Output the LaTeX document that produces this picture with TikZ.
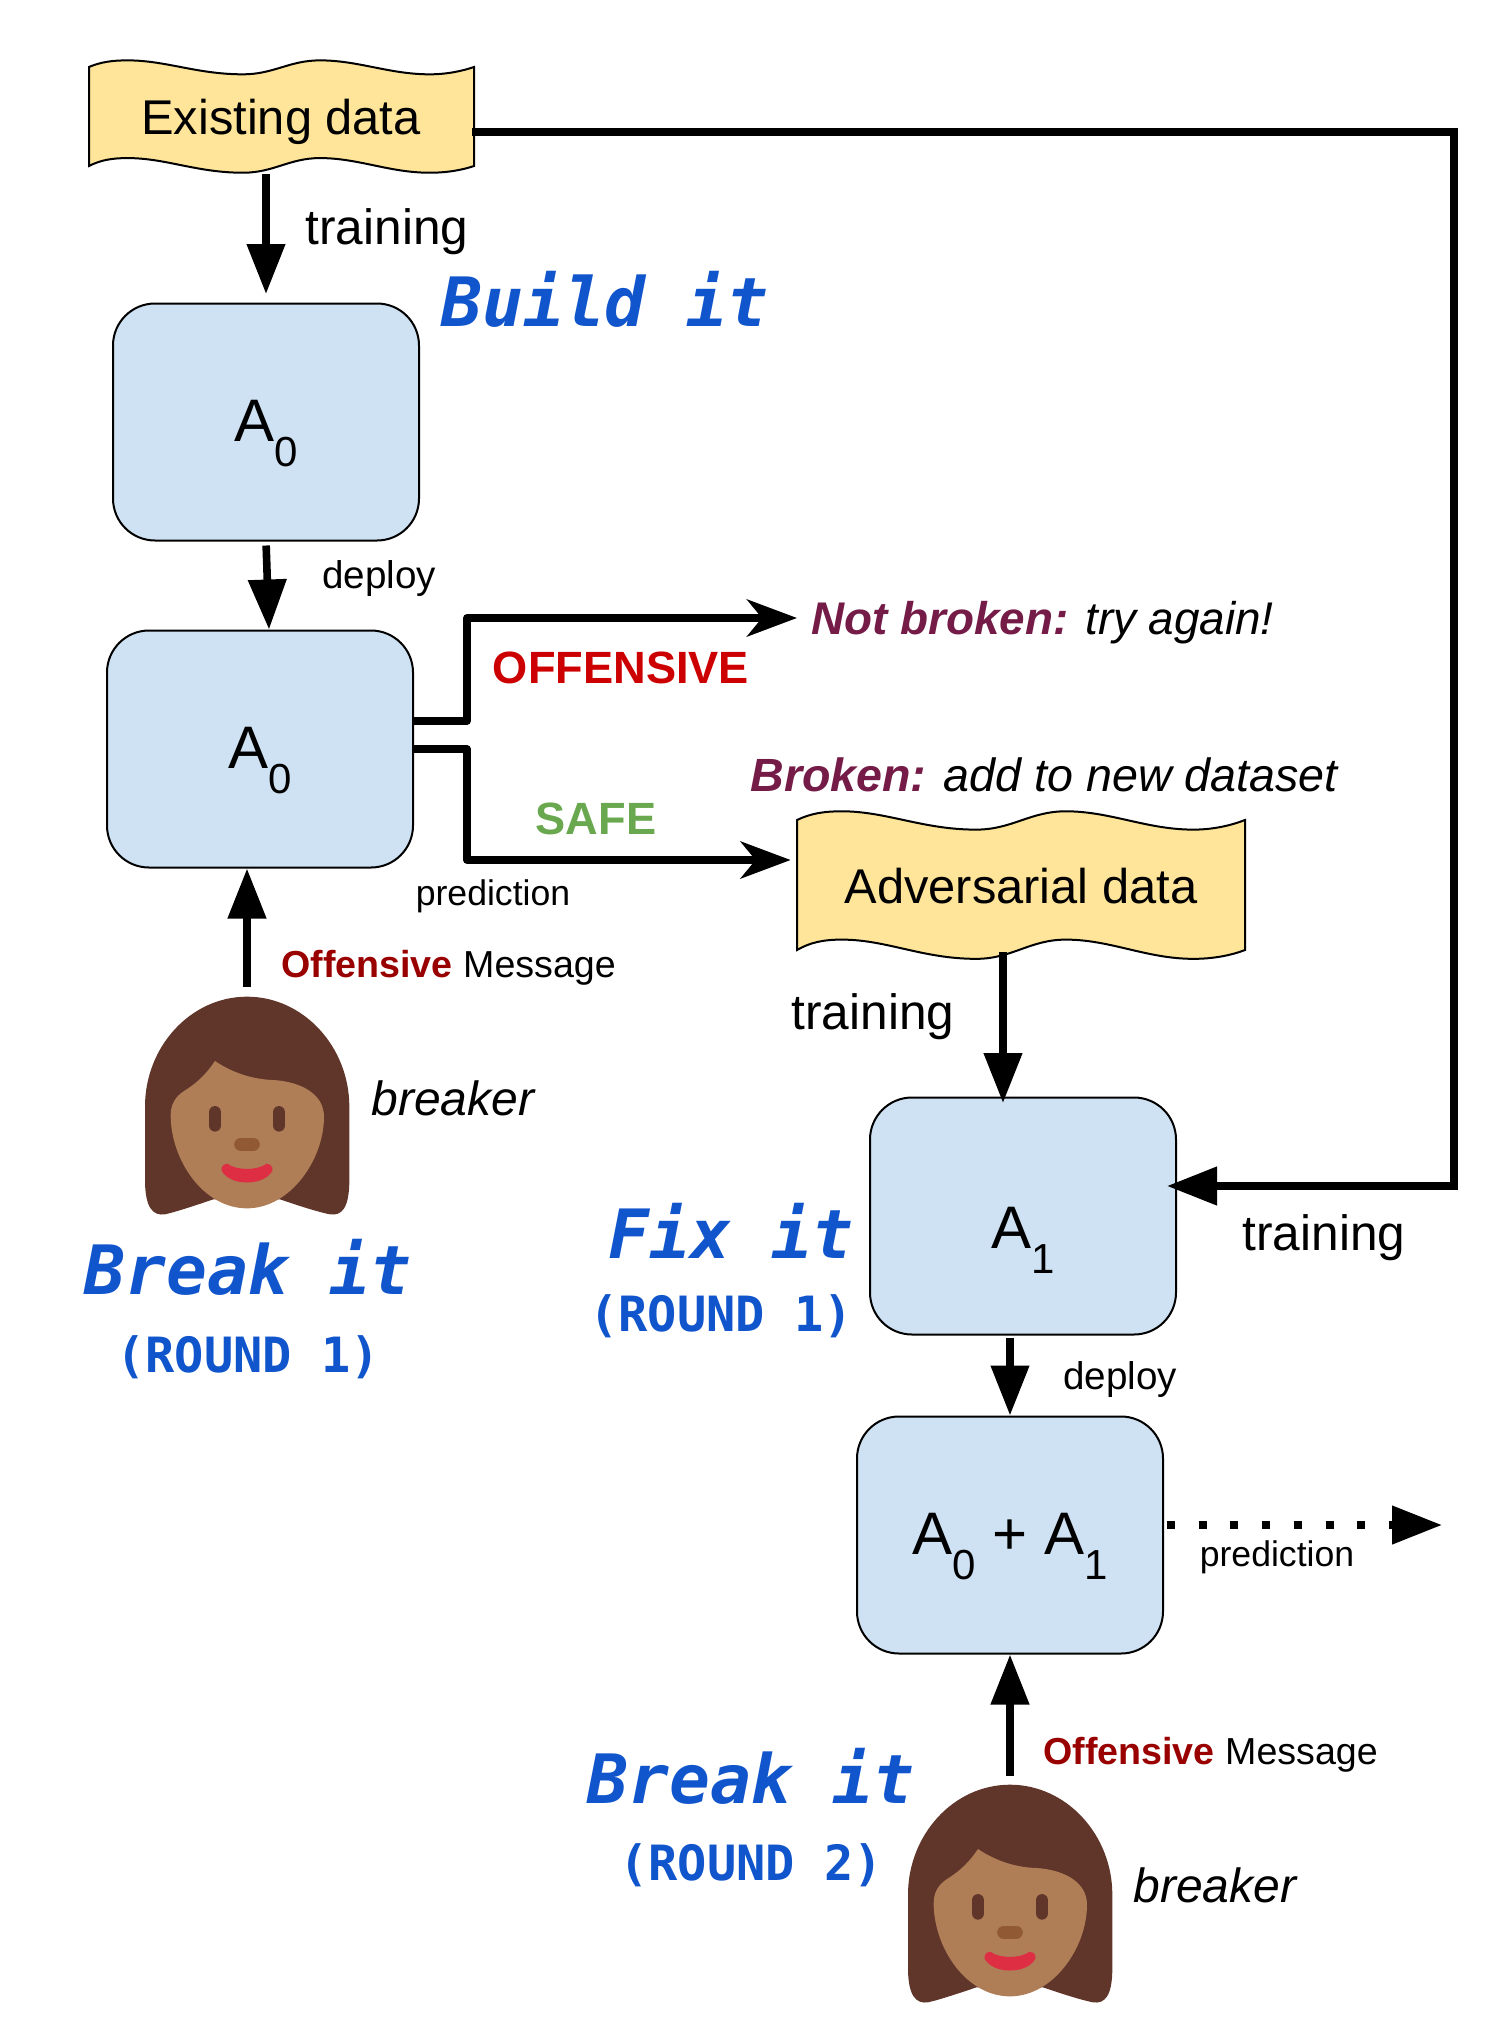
\documentclass[tikz,border=0pt]{standalone}
\usepackage{fontspec}
\setmainfont{Liberation Sans}
\setmonofont{DejaVu Sans Mono}
\usepackage{tikz}
\usetikzlibrary{arrows.meta}

\definecolor{modelblue}{HTML}{CFE2F3}
\definecolor{datayellow}{HTML}{FFE599}
\definecolor{titleblue}{HTML}{1155CC}
\definecolor{offred}{HTML}{CC0000}
\definecolor{msgred}{HTML}{990000}
\definecolor{safegreen}{HTML}{6AA84F}
\definecolor{brokenplum}{HTML}{741B47}
\definecolor{hairbrown}{HTML}{60352A}
\definecolor{skinbrown}{HTML}{AF7E57}
\definecolor{nosebrown}{HTML}{915A34}
\definecolor{mouthred}{HTML}{DD2E44}

\newcommand{\modelsub}[1]{A\raisebox{-.42em}{\fontsize{21}{25}\selectfont #1}}

\begin{document}
\begin{tikzpicture}[x=0.5pt, y=-0.5pt,
modelnode/.style={rectangle, rounded corners=21pt, draw=black, fill=modelblue, line width=1pt, minimum width=153pt, minimum height=118.5pt, text height=19.5pt, text depth=0pt, font=\fontsize{30}{36}\selectfont},
datanode/.style={rectangle, inner sep=0pt, font=\fontsize{24.4}{29}\selectfont},
notenode/.style={inner sep=0pt, font=\fontsize{24.8}{29}\selectfont},
namenode/.style={inner sep=0pt, font=\fontsize{24}{29}\selectfont\itshape},
smallnote/.style={inner sep=0pt, font=\fontsize{19.3}{23}\selectfont},
prednote/.style={inner sep=0pt, font=\fontsize{17.8}{21}\selectfont},
msgnote/.style={inner sep=0pt, anchor=west, font=\fontsize{18.8}{23}\selectfont},
titlenode/.style={inner sep=0pt, text=titleblue, font=\fontsize{34}{40}\selectfont\ttfamily\bfseries\itshape},
roundnote/.style={inner sep=0pt, text=titleblue, font=\fontsize{24.3}{28}\selectfont\ttfamily\bfseries},
facenode/.style={inner sep=0pt, minimum width=102pt, minimum height=109pt},
bigarrow/.style={-{Triangle[length=25pt, width=18.5pt]}, line width=3.8pt},
sidearrow/.style={-{Stealth[length=25pt, width=18.5pt, inset=7.5pt]}, line width=3.8pt, line join=round},
banner/.pic={
  \draw[fill=datayellow, line width=1pt, line join=miter]
    (0,0) .. controls (.03,-.05) and (.06,-.067) .. (.1,-.067)
    .. controls (.2,-.067) and (.28,.074) .. (.4,.074)
    .. controls (.48,.074) and (.52,-.067) .. (.6,-.067)
    .. controls (.7,-.067) and (.78,.074) .. (.885,.074)
    .. controls (.93,.074) and (.97,.04) .. (1,0)
    -- (1,1)
    .. controls (.97,1.04) and (.93,1.068) .. (.885,1.068)
    .. controls (.78,1.068) and (.7,.92) .. (.6,.92)
    .. controls (.52,.92) and (.48,1.068) .. (.4,1.068)
    .. controls (.28,1.068) and (.2,.92) .. (.1,.92)
    .. controls (.06,.92) and (.03,.94) .. (0,1) -- cycle;
},
breakerface/.pic={
  \fill[hairbrown] (441,110) .. controls (610,110) and (748,260) .. (748,440)
    -- (748,660) .. controls (748,745) and (725,768) .. (690,763)
    .. controls (650,755) and (590,735) .. (540,718) -- (340,718)
    .. controls (290,735) and (230,755) .. (195,763)
    .. controls (160,768) and (135,745) .. (135,660) -- (135,440)
    .. controls (135,260) and (272,110) .. (441,110) -- cycle;
  \fill[skinbrown] (345,303) .. controls (400,340) and (460,358) .. (520,360)
    .. controls (600,365) and (672,400) .. (672,470)
    .. controls (672,600) and (570,745) .. (441,745)
    .. controls (310,745) and (212,600) .. (212,465)
    .. controls (212,420) and (240,400) .. (260,388)
    .. controls (295,365) and (320,340) .. (345,303) -- cycle;
  \draw[hairbrown, line width=6.3pt, line cap=round] (345,457) -- (345,496);
  \draw[hairbrown, line width=6.3pt, line cap=round] (537,457) -- (537,496);
  \draw[nosebrown, line width=6.5pt, line cap=round] (422,553) -- (460,553);
  \fill[mouthred] (382,611) .. controls (410,632) and (472,632) .. (500,611)
    .. controls (518,611) and (524,632) .. (510,642)
    .. controls (480,676) and (402,676) .. (372,642)
    .. controls (358,632) and (364,611) .. (382,611) -- cycle;
},
]
\useasboundingbox (0,0) rectangle (1490,2040);

%Nodes
\pic[xscale=385, yscale=99] at (89,67) {banner};
\node[datanode, minimum width=192.5pt, minimum height=49.5pt] (existing) at (281,122) {Existing data};
\pic[xscale=448, yscale=130] at (797,820) {banner};
\node[datanode, minimum width=224pt, minimum height=65pt] (adversarial) at (1021,886) {Adversarial data};

\node[modelnode] (buildA) at (266,422) {\modelsub{0}};
\node[modelnode] (breakA) at (260,749) {\modelsub{0}};
\node[modelnode, text height=32pt] (fixA) at (1023,1216) {\modelsub{1}};
\node[modelnode] (bothA) at (1010,1535) {\modelsub{0} + \modelsub{1}};

\pic[scale=1/3] at (100,960) {breakerface};
\node[facenode] (breakerone) at (247,1106) {};
\pic[scale=1/3] at (863,1748) {breakerface};
\node[facenode] (breakertwo) at (1010,1894) {};

\node[notenode] (trainingA) at (387,232) {training};
\node[notenode] (trainingB) at (873,1017) {training};
\node[notenode] (trainingC) at (1324,1238) {training};
\node[smallnote] (deployA) at (379,579) {deploy};
\node[smallnote] (deployB) at (1120,1380) {deploy};
\node[prednote] (predictionA) at (493,896) {prediction};
\node[prednote] (predictionB) at (1277,1557) {prediction};
\node[msgnote] (messageA) at (281,968) {\textcolor{msgred}{\bfseries Offensive} Message};
\node[msgnote] (messageB) at (1043,1755) {\textcolor{msgred}{\bfseries Offensive} Message};
\node[notenode, text=offred, font=\fontsize{22.6}{27}\selectfont\bfseries] (offensive) at (621,668) {OFFENSIVE};
\node[notenode, text=safegreen, font=\fontsize{22.6}{27}\selectfont\bfseries] (safe) at (596,819) {SAFE};
\node[namenode, anchor=west, font=\fontsize{22.9}{27}\selectfont\itshape] (notbroken) at (811,623) {\textcolor{brokenplum}{\bfseries Not broken:} try again!};
\node[namenode, anchor=west, font=\fontsize{23.3}{28}\selectfont\itshape] (broken) at (750,775) {\textcolor{brokenplum}{\bfseries Broken:} add to new dataset};
\node[namenode] (breakernameA) at (453,1098) {breaker};
\node[namenode] (breakernameB) at (1215,1885) {breaker};

\node[titlenode] (buildit) at (605,299) {Build it};
\node[titlenode] (breakitA) at (248,1267) {Break it};
\node[roundnote] (roundA) at (248,1357) {(ROUND 1)};
\node[titlenode] (fixit) at (731,1231) {Fix it};
\node[roundnote] (roundB) at (721,1316) {(ROUND 1)};
\node[titlenode] (breakitB) at (751,1776) {Break it};
\node[roundnote] (roundC) at (751,1865) {(ROUND 2)};

\coordinate (railtop) at (1454,132);
\coordinate (railbot) at (1454,1186);
\coordinate (offbend) at (467,618);
\coordinate (safebend) at (467,860);
\coordinate (trainline) at (1003,952);
\coordinate (predend) at (1442,1525);

%Lines
\draw[bigarrow, shorten <=1pt, shorten >=4.25pt] (buildA.north |- existing.south) -- (buildA.north);
\draw[bigarrow, shorten <=-1pt, shorten >=-5pt] (existing.east |- railtop) -- (railtop) -- (railbot) -- (fixA.east |- railbot);
\draw[bigarrow, shorten <=2pt] (buildA.south) -- ([xshift=1.5pt]buildA.south |- breakA.north);
\draw[bigarrow, shorten <=5pt] (breakerone.north) -- (breakerone.north |- breakA.south);
\draw[bigarrow, shorten <=1pt] (bothA.north |- fixA.south) -- (bothA.north);
\draw[bigarrow, shorten <=4.5pt] (breakertwo.north) -- (bothA.south);
\draw[bigarrow, shorten >=-3.25pt] (trainline) -- (trainline |- fixA.north);
\draw[sidearrow, shorten >=7pt] (breakA.east |- 0,721) -| (offbend) -- (notbroken.west |- offbend);
\draw[sidearrow, shorten >=3pt] (breakA.east |- 0,749) -| (safebend) -- (adversarial.west |- safebend);
\draw[bigarrow, dash pattern=on 4pt off 11.85pt, line cap=butt, shorten <=1.5pt] (bothA.east |- predend) -- (predend);
\end{tikzpicture}
\end{document}
